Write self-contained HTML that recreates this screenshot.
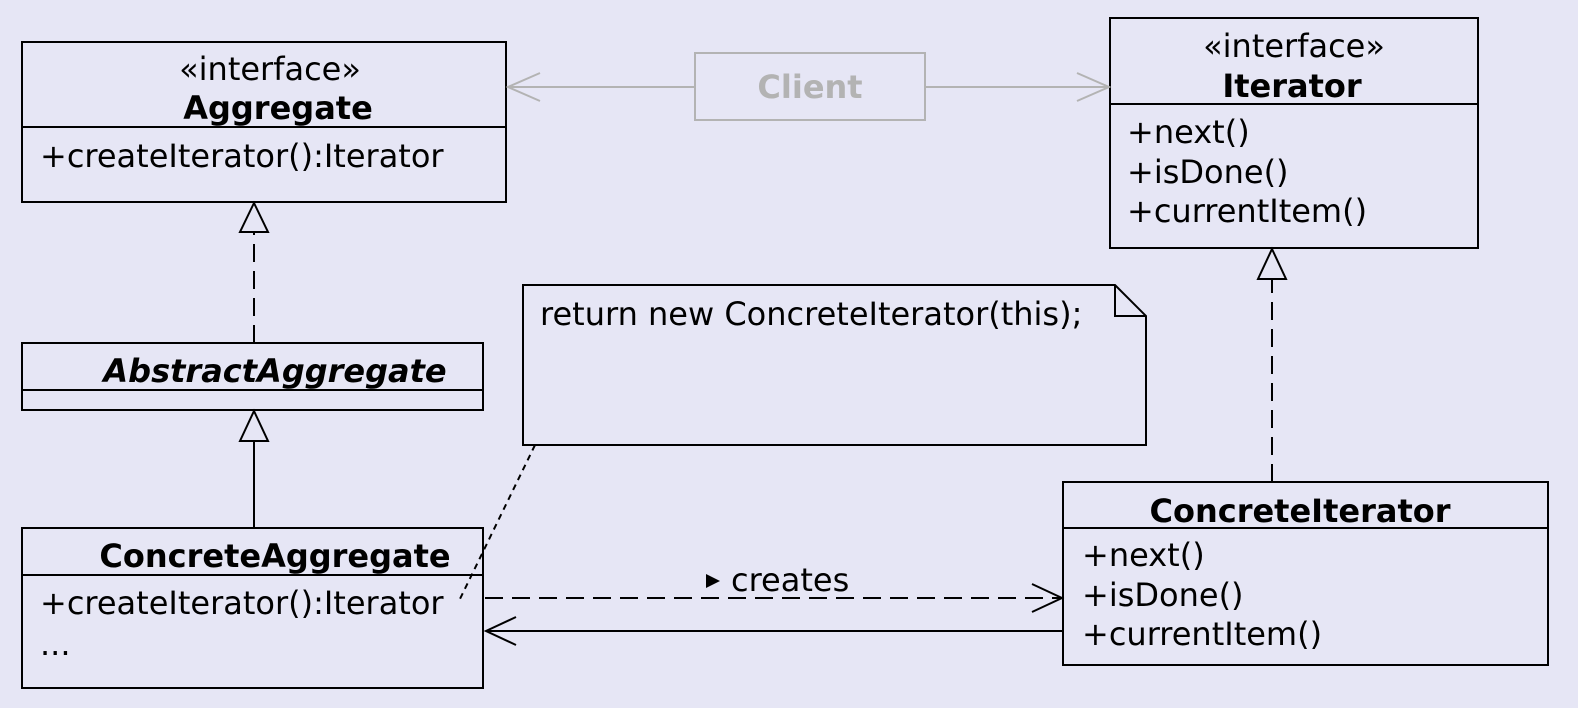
<!DOCTYPE html>
<html><head><meta charset="utf-8"><style>
html,body{margin:0;padding:0;background:#e6e6f5;}
svg{display:block;}
text{font-family:"DejaVu Sans","Liberation Sans",sans-serif;font-size:32px;fill:#000;}
.b{font-weight:bold;}
</style></head><body>
<svg width="1578" height="708" viewBox="0 0 1578 708" xmlns="http://www.w3.org/2000/svg">
<rect width="1578" height="708" fill="#e6e6f5"/>
<g fill="none" stroke="#000" stroke-width="2">
<rect x="22" y="42" width="484" height="160"/><line x1="22" y1="127" x2="506" y2="127"/>
<rect x="1110" y="18" width="368" height="230"/><line x1="1110" y1="104" x2="1478" y2="104"/>
<rect x="22" y="343" width="461" height="67"/><line x1="22" y1="390" x2="483" y2="390"/>
<rect x="22" y="528" width="461" height="160"/><line x1="22" y1="575" x2="483" y2="575"/>
<rect x="1063" y="482" width="485" height="183"/><line x1="1063" y1="528" x2="1548" y2="528"/>
<path d="M523 285 H1115 L1146 316 V445 H523 Z"/><path d="M1115 285 V316 H1146"/>
<line x1="535" y1="445" x2="458" y2="603" stroke-dasharray="6,5"/>
<line x1="254" y1="343" x2="254" y2="232" stroke-dasharray="18,9"/>
<path d="M254 203 L268 232 H240 Z"/>
<line x1="254" y1="528" x2="254" y2="441"/>
<path d="M254 411 L268 441 H240 Z"/>
<line x1="1272" y1="482" x2="1272" y2="279" stroke-dasharray="18,9"/>
<path d="M1272 249 L1286 279 H1258 Z"/>
<line x1="485" y1="598" x2="1062" y2="598" stroke-dasharray="18,9"/>
<path d="M1032 584 L1062 598 L1032 612"/>
<line x1="486" y1="631" x2="1063" y2="631"/>
<path d="M516 617 L486 631 L516 645"/>
</g>
<g fill="none" stroke="#b3b3b3" stroke-width="2">
<rect x="695" y="53" width="230" height="67"/>
<line x1="508" y1="87" x2="695" y2="87"/><path d="M540 73 L508 87 L540 101"/>
<line x1="925" y1="87" x2="1109" y2="87"/><path d="M1077 73 L1109 87 L1077 101"/>
</g>
<text x="810" y="98" text-anchor="middle" class="b" style="fill:#b3b3b3">Client</text>
<text x="270" y="80" text-anchor="middle">«interface»</text>
<text x="278" y="119" text-anchor="middle" class="b">Aggregate</text>
<text x="40" y="167">+createIterator():Iterator</text>
<text x="1294" y="57" text-anchor="middle">«interface»</text>
<text x="1292" y="97" text-anchor="middle" class="b">Iterator</text>
<text x="1127" y="143">+next()</text>
<text x="1127" y="183">+isDone()</text>
<text x="1127" y="222">+currentItem()</text>
<text x="275" y="382" text-anchor="middle" class="b" font-style="italic">AbstractAggregate</text>
<text x="275" y="567" text-anchor="middle" class="b">ConcreteAggregate</text>
<text x="40" y="614">+createIterator():Iterator</text>
<text x="40" y="655">...</text>
<text x="540" y="325">return new ConcreteIterator(this);</text>
<text x="1300" y="522" text-anchor="middle" class="b">ConcreteIterator</text>
<text x="1082" y="566">+next()</text>
<text x="1082" y="606">+isDone()</text>
<text x="1082" y="645">+currentItem()</text>
<path d="M706 574 L720 581 L706 588 Z" fill="#000"/>
<text x="731" y="591">creates</text>
</svg>
</body></html>
